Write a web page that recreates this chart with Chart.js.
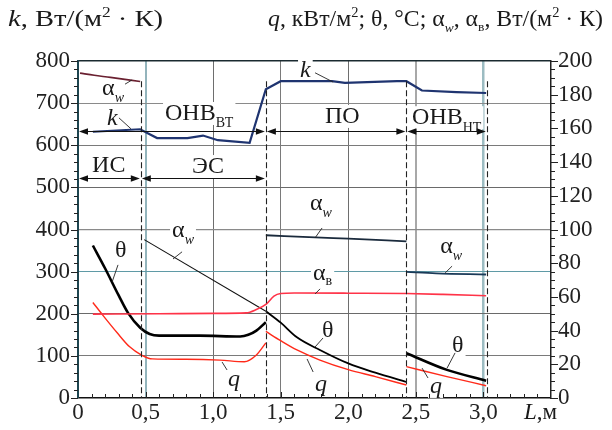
<!DOCTYPE html>
<html><head><meta charset="utf-8">
<script src="https://cdn.jsdelivr.net/npm/chart.js@4/dist/chart.umd.min.js"></script>
<style>html,body{margin:0;padding:0;background:#fff}</style>
</head><body>
<canvas id="c" width="612" height="430"></canvas>
<script>
const FONT = '"Liberation Serif", Tinos, "Times New Roman", "DejaVu Serif", serif';

// ---- tick labels ----
const xTickValues = [0, 0.5, 1, 1.5, 2, 2.5, 3, 3.5];
const xTickLabels = ['0', '0,5', '1,0', '1,5', '2,0', '2,5', '3,0', ''];
const leftTickValues = [0, 100, 200, 300, 400, 500, 600, 700, 800];
const rightTickValues = [0, 20, 40, 60, 80, 100, 120, 140, 160, 180, 200];

// ---- zone boundaries (L, m) ----
const zoneBounds = [0.465, 1.39, 2.43, 3.025];

// ---- k, W/(m2 K)  (left axis) ----
const kData = [[0.11,632],[0.46,638],[0.585,617],[0.81,617],[0.925,623],[1.035,612],[1.27,606],[1.39,733],[1.5,752],[1.88,752],[1.975,748],[2.36,752],[2.43,752],[2.545,730],[2.8,726],[3.02,724]];

// ---- right-axis series ----
const alphaW_IS  = [[0.015,192.8],[0.12,191.5],[0.24,190.3],[0.46,187.8]];
const alphaW_ES  = [[0.49,94],[1.39,51.5]];
const alphaW_PO  = [[1.39,96.6],[1.8,95.2],[2.0,94.6],[2.43,93]];
const alphaW_NT  = [[2.43,74.8],[2.65,74],[3.02,73.3]];
const alphaB     = [[0.11,49.8],[0.6,50],[1.0,50.2],[1.245,50.5],[1.32,52.5],[1.39,55.5],[1.45,60.5],[1.5,62],[1.6,62.3],[2.0,62.2],[2.43,62],[2.7,61.5],[3.02,60.7]];
const theta_ES   = [[0.11,90.5],[0.2,77],[0.3,61],[0.37,50.5],[0.46,41.7],[0.53,38],[0.6,37],[0.9,37],[1.2,36.5],[1.26,37.5],[1.32,40],[1.39,45]];
const theta_PO   = [[1.39,51.5],[1.5,44.7],[1.62,36],[1.79,28.5],[2.0,20.5],[2.2,15],[2.43,9.5]];
const theta_NT   = [[2.43,26.6],[2.73,16.7],[3.02,10.3]];
const q_ES       = [[0.11,56.7],[0.18,49.5],[0.29,38.7],[0.38,30.5],[0.47,25.5],[0.55,23.2],[0.8,23],[1.05,22.5],[1.23,21.5],[1.32,25.5],[1.39,32.7]];
const q_PO       = [[1.39,39.5],[1.5,34],[1.62,28.5],[1.79,22.5],[2.0,16.8],[2.2,12.7],[2.43,7.7]];
const q_NT       = [[2.43,18.6],[2.73,12.7],[3.02,7.3]];

// ---- annotation texts (anchored in data units: x in m, y in left-axis units) ----
const aw = () => [{t:'α',s:24},{t:'w',s:14,i:true,dy:7}];
const annotations = [
  {x:0.644, y:660, parts:[{t:'ОНВ',s:24},{t:'ВТ',s:14,dy:7}]},
  {x:0.104, y:536, parts:[{t:'ИС',s:24}]},
  {x:0.844, y:534, parts:[{t:'ЭС',s:24}]},
  {x:1.828, y:653, parts:[{t:'ПО',s:24}]},
  {x:2.472, y:650, parts:[{t:'ОНВ',s:24},{t:'НТ',s:14,dy:8}]},
  {x:0.215, y:648, parts:[{t:'k',s:24,i:true}]},
  {x:0.178, y:719, parts:aw()},
  {x:1.643, y:762, parts:[{t:'k',s:24,i:true}]},
  {x:0.696, y:382, parts:aw()},
  {x:0.274, y:335, parts:[{t:'θ',s:24}]},
  {x:1.11,  y:28.5, parts:[{t:'q',s:24,i:true}]},
  {x:1.717, y:446, parts:aw()},
  {x:1.739, y:280, parts:[{t:'α',s:24},{t:'в',s:14,dy:5}]},
  {x:1.806, y:145, parts:[{t:'θ',s:24}]},
  {x:1.754, y:16.6, parts:[{t:'q',s:24,i:true}]},
  {x:2.68,  y:344, parts:aw()},
  {x:2.768, y:109, parts:[{t:'θ',s:24}]},
  {x:2.605, y:12,  parts:[{t:'q',s:24,i:true}]}
];
const leaders = [
  [0.348,745,0.4,755],[0.303,665,0.392,639],[1.754,772,1.888,750],[0.77,347,0.703,330],
  [0.296,316,0.252,275],[1.103,66.5,1.066,85.5],[1.806,403.6,1.754,380],[1.791,259,1.754,247],
  [1.813,142.4,1.754,121],[1.74,61.7,1.695,92.6],[2.768,313,2.717,297],[2.79,107,2.731,71],[2.59,47.5,2.546,71]
];
const arrowRows = [
  {y:633, segs:[[0,1.39],[1.39,2.43],[2.43,3.025]]},
  {y:522, segs:[[0,0.465],[0.465,1.39]]}
];

const vGridStyle = {0.5:['#93b4bc',2], 1:['#6e6e6e',1], 1.5:['#7a7a7a',1], 2:['#6e6e6e',1], 2.5:['#a8a8a8',2], 3:['#9cbcc2',2.5]};
const hGridStyle = {100:['#7a7a7a',1],200:['#6a6a6a',1],300:['#5f9aa6',1],400:['#8a8a8a',1.2],500:['#6a6a6a',1],600:['#7a7a7a',1],700:['#8a8a8a',1],800:['#1a2a30',1.5]};

(function () {
  const toXY = a => a.map(p => ({x:p[0], y:p[1]}));
  function mkSet(data, color, width, axis, smooth) {
    return {data: toXY(data), borderColor: color, borderWidth: width, yAxisID: axis,
      pointRadius: 0, fill: false, tension: 0,
      cubicInterpolationMode: smooth ? 'monotone' : 'default'};
  }
  function fontStr(p){ return (p.i ? 'italic ' : '') + p.s + 'px ' + FONT; }
  function partsWidth(ctx, parts){ let w=0; parts.forEach(p=>{ctx.font=fontStr(p); w+=ctx.measureText(p.t).width;}); return w; }
  function drawParts(ctx, parts, x, y){
    let cx = x;
    parts.forEach(p => { ctx.font = fontStr(p); ctx.fillText(p.t, cx, y + (p.dy||0)); cx += ctx.measureText(p.t).width; });
  }
  function drawFit(ctx, parts, x0, x1, y){
    const w = partsWidth(ctx, parts);
    const k = Math.max(0.85, Math.min(1.25, (x1 - x0) / w));
    ctx.save(); ctx.translate(x0, y); ctx.scale(k, 1); drawParts(ctx, parts, 0, 0); ctx.restore();
  }
  function arrowHead(ctx, x, y, dir){
    ctx.beginPath(); ctx.moveTo(x, y); ctx.lineTo(x - dir*9, y - 3.2); ctx.lineTo(x - dir*9, y + 3.2); ctx.closePath(); ctx.fill();
  }

  const overlay = {
    id: 'overlay',
    beforeDatasetsDraw(ch){
      const ctx = ch.ctx, xs = ch.scales.x, ys = ch.scales.y;
      ctx.save(); ctx.fillStyle = '#fff';
      annotations.forEach(a => {
        const px = xs.getPixelForValue(a.x), py = ys.getPixelForValue(a.y);
        const w = partsWidth(ctx, a.parts);
        ctx.fillRect(px - 2, py - 18, w + 4, 23);
      });
      ctx.restore();
    },
    afterDatasetsDraw(ch){
      const ctx = ch.ctx, xs = ch.scales.x, ys = ch.scales.y, y2 = ch.scales.y2;
      const ca = ch.chartArea;
      ctx.save();
      ctx.strokeStyle = '#222'; ctx.lineWidth = 1.1; ctx.setLineDash([6,3]);
      zoneBounds.forEach(b => {
        const px = Math.round(xs.getPixelForValue(b)) + 0.5;
        ctx.beginPath(); ctx.moveTo(px, ys.getPixelForValue(752)); ctx.lineTo(px, ys.getPixelForValue(0)); ctx.stroke();
      });
      ctx.setLineDash([]);
      ctx.strokeStyle = '#111'; ctx.fillStyle = '#111'; ctx.lineWidth = 1.2;
      arrowRows.forEach(r => {
        const py = Math.round(ys.getPixelForValue(r.y)) + 0.5;
        r.segs.forEach(s => {
          const a = xs.getPixelForValue(s[0]) + 1, b = xs.getPixelForValue(s[1]) - 1;
          ctx.beginPath(); ctx.moveTo(a + 4, py); ctx.lineTo(b - 4, py); ctx.stroke();
          arrowHead(ctx, a, py, -1); arrowHead(ctx, b, py, 1);
        });
      });
      ctx.lineWidth = 0.9; ctx.strokeStyle = '#222';
      leaders.forEach(l => {
        ctx.beginPath(); ctx.moveTo(xs.getPixelForValue(l[0]), ys.getPixelForValue(l[1]));
        ctx.lineTo(xs.getPixelForValue(l[2]), ys.getPixelForValue(l[3])); ctx.stroke();
      });
      ctx.fillStyle = '#1a1a1a'; ctx.textBaseline = 'alphabetic'; ctx.textAlign = 'left';
      annotations.forEach(a => drawParts(ctx, a.parts, xs.getPixelForValue(a.x), ys.getPixelForValue(a.y)));
      ctx.strokeStyle = '#222'; ctx.lineWidth = 1;
      for (let v = 0; v <= 800; v += 20) {
        const py = Math.round(ys.getPixelForValue(v)) + 0.5, len = v % 100 === 0 ? 7 : 4;
        ctx.beginPath(); ctx.moveTo(ca.left - len, py); ctx.lineTo(ca.left, py); ctx.stroke();
      }
      for (let v = 0; v <= 200; v += 5) {
        const py = Math.round(y2.getPixelForValue(v)) + 0.5, len = v % 20 === 0 ? 7 : 4;
        ctx.beginPath(); ctx.moveTo(ca.right, py); ctx.lineTo(ca.right + len, py); ctx.stroke();
      }
      for (let i = 1; i < 35; i++) {
        const px = Math.round(xs.getPixelForValue(i / 10)) + 0.5, len = i % 5 === 0 ? 6 : 4;
        ctx.beginPath(); ctx.moveTo(px, ca.bottom); ctx.lineTo(px, ca.bottom - len); ctx.stroke();
      }
      ctx.restore();
    },
    afterDraw(ch){
      const ctx = ch.ctx, xs = ch.scales.x, ca = ch.chartArea;
      ctx.save(); ctx.fillStyle = '#1a1a1a'; ctx.textBaseline = 'alphabetic'; ctx.textAlign = 'left';
      const S = 23, sup = {s:14, dy:-9};
      const leftTitle = [{t:'k',s:S,i:true},{t:', Вт/(м',s:S},{t:'2',s:sup.s,dy:sup.dy},{t:' · К)',s:S}];
      drawFit(ctx, leftTitle, 8, 163, 26);
      const rightTitle = [{t:'q',s:S,i:true},{t:', кВт/м',s:S},{t:'2',s:sup.s,dy:sup.dy},{t:'; θ, °C; α',s:S},
        {t:'w',s:13,i:true,dy:6},{t:', α',s:S},{t:'в',s:13,dy:5},{t:', Вт/(м',s:S},{t:'2',s:sup.s,dy:sup.dy},{t:' · К)',s:S}];
      drawFit(ctx, rightTitle, 268, 603, 26);
      const lx = xs.getPixelForValue(3.5) + 6;
      const lp = [{t:'L',s:23,i:true},{t:',м',s:23}];
      drawParts(ctx, lp, lx - partsWidth(ctx, lp), ca.bottom + 21);
      ctx.restore();
    }
  };

  new Chart(document.getElementById('c'), {
    type: 'line',
    data: { datasets: [
      mkSet(alphaB, '#ff3348', 1.6, 'y2', true),
      mkSet(alphaW_IS, '#6a2030', 1.6, 'y2', true),
      mkSet(alphaW_ES, '#111111', 1.1, 'y2', false),
      mkSet(alphaW_PO, '#1a2a3c', 1.8, 'y2', true),
      mkSet(alphaW_NT, '#1a3a58', 1.8, 'y2', true),
      mkSet(q_ES, '#ff2a1a', 1.4, 'y2', true),
      mkSet(q_PO, '#ff2a1a', 1.4, 'y2', true),
      mkSet(q_NT, '#ff2a1a', 1.4, 'y2', true),
      mkSet(theta_ES, '#000000', 2.6, 'y2', true),
      mkSet(theta_PO, '#000000', 1.8, 'y2', true),
      mkSet(theta_NT, '#000000', 2.6, 'y2', true),
      mkSet(kData, '#1f3470', 2.2, 'y', false)
    ]},
    options: {
      responsive: false, devicePixelRatio: 1, animation: false,
      layout: { padding: { top: 61, left: 0, right: 0, bottom: 0 } },
      plugins: { legend: { display: false }, tooltip: { enabled: false } },
      scales: {
        x: {
          type: 'linear', min: 0, max: 3.5,
          afterBuildTicks: s => { s.ticks = xTickValues.map(v => ({value: v})); },
          afterFit: s => { s.height = 32; },
          ticks: { callback: (v, i) => xTickLabels[i], font: {family: FONT, size: 23}, color: '#222', padding: 1, maxRotation: 0, autoSkip: false },
          grid: { drawTicks: false,
            color: c => (vGridStyle[c.tick && c.tick.value] || ['rgba(0,0,0,0)'])[0],
            lineWidth: c => (vGridStyle[c.tick && c.tick.value] || [0, 0])[1] },
          border: { display: true, color: '#111', width: 1.5 }
        },
        y: {
          type: 'linear', position: 'left', min: 0, max: 800,
          afterBuildTicks: s => { s.ticks = leftTickValues.map(v => ({value: v})); },
          afterFit: s => { s.width = 78; },
          ticks: { callback: v => String(v), font: {family: FONT, size: 23}, color: '#222', padding: 8 },
          grid: { drawTicks: false,
            color: c => (hGridStyle[c.tick && c.tick.value] || ['rgba(0,0,0,0)'])[0],
            lineWidth: c => (hGridStyle[c.tick && c.tick.value] || [0, 0])[1] },
          border: { display: true, color: '#1d4550', width: 2 }
        },
        y2: {
          type: 'linear', position: 'right', min: 0, max: 200,
          afterBuildTicks: s => { s.ticks = rightTickValues.map(v => ({value: v})); },
          afterFit: s => { s.width = 61; },
          ticks: { callback: v => String(v), font: {family: FONT, size: 23}, color: '#222', padding: 7 },
          grid: { drawOnChartArea: false, drawTicks: false },
          border: { display: true, color: '#222', width: 1.5 }
        }
      }
    },
    plugins: [overlay]
  });
})();
</script>
</body></html>
